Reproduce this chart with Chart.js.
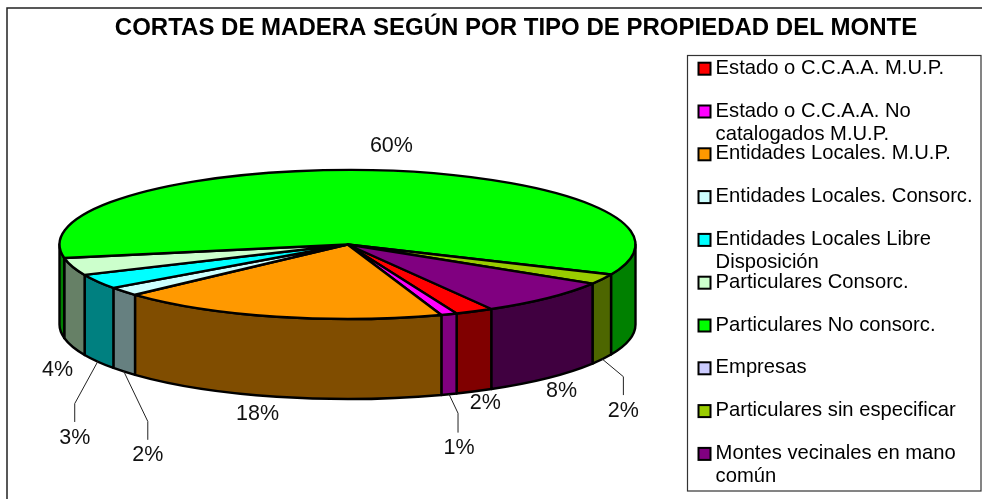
<!DOCTYPE html>
<html>
<head>
<meta charset="utf-8">
<style>html,body{margin:0;padding:0;background:#fff}canvas{display:block}</style>
<script src="https://cdn.jsdelivr.net/npm/chart.js@4"></script>
</head>
<body>
<canvas id="c" width="982" height="499"></canvas>
<script>
const chartTitle = 'CORTAS DE MADERA SEGÚN POR TIPO DE PROPIEDAD DEL MONTE';
const categories = [
  ['Estado o C.C.A.A. M.U.P.'],
  ['Estado o C.C.A.A. No', 'catalogados M.U.P.'],
  ['Entidades Locales. M.U.P.'],
  ['Entidades Locales. Consorc.'],
  ['Entidades Locales Libre', 'Disposición'],
  ['Particulares Consorc.'],
  ['Particulares No consorc.'],
  ['Empresas'],
  ['Particulares sin especificar'],
  ['Montes vecinales en mano', 'común']
];
const shares = [2.15, 0.9, 18.49, 1.9, 3.2, 3.8, 59.5, 0, 2.2, 7.86];
const topColors = ['#FF0000','#FF00FF','#FF9900','#CCFFFF','#00FFFF','#CCFFCC','#00FF00','#CCCCFF','#99CC00','#800080'];
const wallColors = ['#800000','#800080','#804D00','#668080','#008080','#668066','#008000','#666680','#4D6600','#400040'];

// Layout of the text placed around the pie, relative to each slice's outer lower edge
const labelOffsets = [[11,11.5],[10,54],[-19,17],[24,84],[-23,76],[-15,23],[10.4,-104],[0,0],[21,51.5],[13.4,13]];
const leaderBends = [null,[9,19,38],null,[24,50,68],[-23,42,60],null,null,null,[21,17.5,35.5],null];

const PIE = {cx:347.5, cy:244.5, rx:288, ry:74.5, depth:80};
const FONT = '"Liberation Sans", Arial, sans-serif';
const LEGEND = {boxL:687.5, boxT:55.5, boxR:981, boxB:491, font:20.2, pad:22.6, box:1, itemL:704.5, second:23, swatch:12, swatchX:698.5};

const pie3d = {
  id:'pie3d',
  afterLayout(chart){
    const lg = chart.legend;
    const w = lg.right - lg.left;
    lg.left = LEGEND.itemL - LEGEND.pad;
    lg.right = lg.left + w + 60;
  },
  beforeDraw(chart){
    const c = chart.ctx;
    c.save();
    c.fillStyle='#fff'; c.fillRect(0,0,982,499);
    c.strokeStyle='#222'; c.lineWidth=1.5;
    c.strokeRect(7,8,1100,700);
    c.lineWidth=1.2;
    c.fillStyle='#fff';
    c.fillRect(LEGEND.boxL,LEGEND.boxT,LEGEND.boxR-LEGEND.boxL,LEGEND.boxB-LEGEND.boxT);
    c.strokeStyle='#333';
    c.strokeRect(LEGEND.boxL,LEGEND.boxT,LEGEND.boxR-LEGEND.boxL,LEGEND.boxB-LEGEND.boxT);
    c.restore();
  },
  afterDraw(chart){
    const c = chart.ctx, lg = chart.legend;
    c.save();
    c.font = LEGEND.font+'px '+FONT;
    c.textBaseline='middle'; c.textAlign='left';
    const x = lg.left + LEGEND.pad + LEGEND.box + LEGEND.font/2;
    categories.forEach((lines,i)=>{
      const y = lg.top + LEGEND.pad + i*(LEGEND.font+LEGEND.pad) + LEGEND.font/2;
      c.fillStyle = topColors[i]; c.strokeStyle='#000'; c.lineWidth=2;
      c.fillRect(LEGEND.swatchX, y+0.5-LEGEND.swatch/2, LEGEND.swatch, LEGEND.swatch);
      c.strokeRect(LEGEND.swatchX, y+0.5-LEGEND.swatch/2, LEGEND.swatch, LEGEND.swatch);
      if(lines.length>1){
        c.fillStyle='#000';
        c.fillText(lines[1], x, y + LEGEND.second);
      }
    });
    c.restore();
  },
  beforeDatasetsDraw(chart){
    const c = chart.ctx, arcs = chart.getDatasetMeta(0).data;
    const {cx,cy,ry,depth} = PIE;
    const rx = arcs[0].outerRadius;
    const px = a => cx + rx*Math.cos(a), py = a => cy + ry*Math.sin(a);
    c.save();
    c.lineJoin='round'; c.lineCap='round';
    c.strokeStyle='#000'; c.lineWidth=2.4;
    const TAU = Math.PI*2;
    // side walls: the part of each slice on the front half
    arcs.forEach((arc,i)=>{
      if(arc.endAngle-arc.startAngle<=0) return;
      for(let k=-1;k<=1;k++){
        const s = Math.max(arc.startAngle, k*TAU), e = Math.min(arc.endAngle, k*TAU+Math.PI);
        if(e<=s) continue;
        c.beginPath();
        c.ellipse(cx,cy,rx,ry,0,s,e,false);
        c.lineTo(px(e),py(e)+depth);
        c.ellipse(cx,cy+depth,rx,ry,0,e,s,true);
        c.closePath();
        c.fillStyle = wallColors[i];
        c.fill(); c.stroke();
      }
    });
    // top faces
    arcs.forEach((arc,i)=>{
      if(arc.endAngle-arc.startAngle<=0) return;
      c.beginPath();
      c.moveTo(cx,cy);
      c.ellipse(cx,cy,rx,ry,0,arc.startAngle,arc.endAngle,false);
      c.closePath();
      c.fillStyle = topColors[i];
      c.fill(); c.stroke();
    });
    // percentage labels and leader lines
    c.font='21.5px '+FONT; c.fillStyle='#111'; c.textAlign='center'; c.textBaseline='middle';
    const total = shares.reduce((a,b)=>a+b,0);
    arcs.forEach((arc,i)=>{
      if(shares[i]<=0) return;
      const mid=(arc.startAngle+arc.endAngle)/2;
      const ax=px(mid), ay=py(mid)+depth;
      const b=leaderBends[i];
      if(b){
        c.save(); c.strokeStyle='#222'; c.lineWidth=1;
        c.beginPath(); c.moveTo(ax,ay); c.lineTo(ax+b[0],ay+b[1]); c.lineTo(ax+b[0],ay+b[2]); c.stroke();
        c.restore();
      }
      c.fillText(Math.round(shares[i]/total*100)+'%', ax+labelOffsets[i][0], ay+labelOffsets[i][1]);
    });
    c.restore();
    return false;
  }
};

new Chart(document.getElementById('c'),{
  type:'pie',
  data:{
    labels:categories.map(l=>l.join(' ')),
    datasets:[{data:shares, backgroundColor:topColors, radius:PIE.rx}]
  },
  options:{
    responsive:false, animation:false, rotation:150,
    layout:{padding:{left:50,right:0,top:0,bottom:0}},
    plugins:{
      tooltip:{enabled:false},
      title:{display:true,text:chartTitle,color:'#000',fullSize:true,
        font:{family:FONT,size:24,weight:'bold',lineHeight:1},
        padding:{top:16.5,bottom:-5}},
      legend:{display:true,position:'right',align:'start',fullSize:false,
        labels:{color:'#000',font:{family:FONT,size:LEGEND.font},boxWidth:LEGEND.box,boxHeight:LEGEND.box,padding:LEGEND.pad,
          generateLabels:()=>categories.map((l,i)=>({text:l[0],fillStyle:topColors[i],strokeStyle:'#000',lineWidth:0,hidden:false,index:i,fontColor:'#000'}))}
      }
    }
  },
  plugins:[pie3d]
});
</script>
</body>
</html>
